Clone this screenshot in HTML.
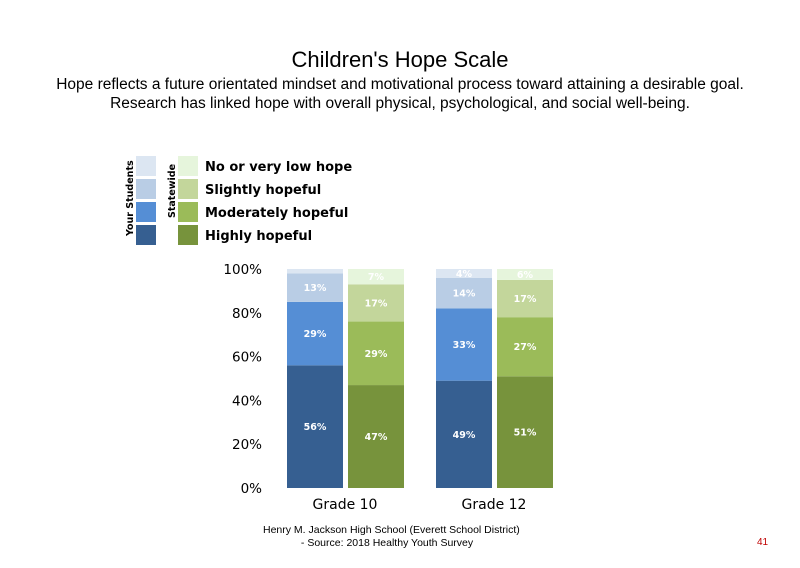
<!DOCTYPE html>
<html><head><meta charset="utf-8"><style>
body{margin:0;background:#fff;font-family:"Liberation Sans",sans-serif}
#wrap{position:relative;width:800px;height:568px;overflow:hidden}
.t{position:absolute;left:0;width:800px;text-align:center;color:#000}
</style></head><body><div id="wrap">
<div class="t" style="top:47px;font-size:22px">Children's Hope Scale</div>
<div class="t" style="top:75px;font-size:15.5px;line-height:19px;left:50px;width:700px">Hope reflects a future orientated mindset and motivational process toward attaining a desirable goal.<br>Research has linked hope with overall physical, psychological, and social well-being.</div>
<svg id="chart" width="800" height="568" style="position:absolute;left:0;top:0"></svg>
<div class="t" style="top:524px;font-size:10.5px;line-height:13px;left:0;width:800px;text-align:left;padding-left:263px">Henry M. Jackson High School (Everett School District)<br>&nbsp;&nbsp;&nbsp;&nbsp;&nbsp;&nbsp;&nbsp;&nbsp;&nbsp;&nbsp;&nbsp;&nbsp;&nbsp;- Source: 2018 Healthy Youth Survey</div>
<div style="position:absolute;left:757px;top:537px;font-size:10px;color:#c00000">41</div>
</div>
<script>
const categories=["Grade 10","Grade 12"];
const levels=["Highly hopeful","Moderately hopeful","Slightly hopeful","No or very low hope"];
const studentValues=[[56,29,13,2],[49,33,14,4]];
const statewideValues=[[47,29,17,7],[51,27,17,6]];
const yTicks=[0,20,40,60,80,100];
const blue=["#365f91","#558ed5","#b9cde5","#dce6f2"];
const green=["#77933c","#9bbb59","#c3d69b","#e6f5dc"];
const NS="http://www.w3.org/2000/svg";
const svg=document.getElementById('chart');
const y0=488,y1=269;
function y(v){return y0-(y0-y1)*v/100;}
function gx(i){return 287+i*149;}
const bw=56;
function mk(t,a){const e=document.createElementNS(NS,t);for(const k in a)e.setAttribute(k,a[k]);svg.appendChild(e);return e;}
yTicks.forEach(v=>{const e=mk('text',{x:262,y:y(v)+5,'text-anchor':'end','font-size':13.5,'font-family':'DejaVu Sans, sans-serif',fill:'#000'});e.textContent=v+'%';

});
function stack(vals,x,cols,name){let c=0;vals.forEach((v,j)=>{const top=Math.min(100,c+v);const h=y(c)-y(top);
const r=mk('rect',{x:x,y:y(top),width:bw,height:h,fill:cols[j]});


if(v>=4){const t=mk('text',{x:x+bw/2,y:y((c+top)/2)+3.5,'text-anchor':'middle','font-size':9.5,'font-weight':'bold','font-family':'DejaVu Sans, sans-serif',fill:'#fff'});t.textContent=v+'%';

}
c=top;});}
categories.forEach((cat,i)=>{stack(studentValues[i],gx(i),blue,'students-'+i);stack(statewideValues[i],gx(i)+61,green,'statewide-'+i);
const t=mk('text',{x:gx(i)+58,y:509,'text-anchor':'middle','font-size':14,'font-family':'DejaVu Sans, sans-serif',fill:'#000'});t.textContent=cat;

});
for(let j=0;j<4;j++){const yy=156+j*23;
const a=mk('rect',{x:136,y:yy,width:20,height:20,fill:blue[3-j]});


const b=mk('rect',{x:178,y:yy,width:20,height:20,fill:green[3-j]});


const t=mk('text',{x:205,y:yy+15,'font-size':13,'font-weight':'bold','font-family':'DejaVu Sans, sans-serif',fill:'#000'});t.textContent=levels[3-j];

}
let l1=mk('text',{transform:'translate(133,236) rotate(-90)','font-size':9.5,'font-weight':'bold','font-family':'DejaVu Sans, sans-serif'});l1.textContent='Your Students';


let l2=mk('text',{transform:'translate(175,218) rotate(-90)','font-size':9.5,'font-weight':'bold','font-family':'DejaVu Sans, sans-serif'});l2.textContent='Statewide';


</script></body></html>
